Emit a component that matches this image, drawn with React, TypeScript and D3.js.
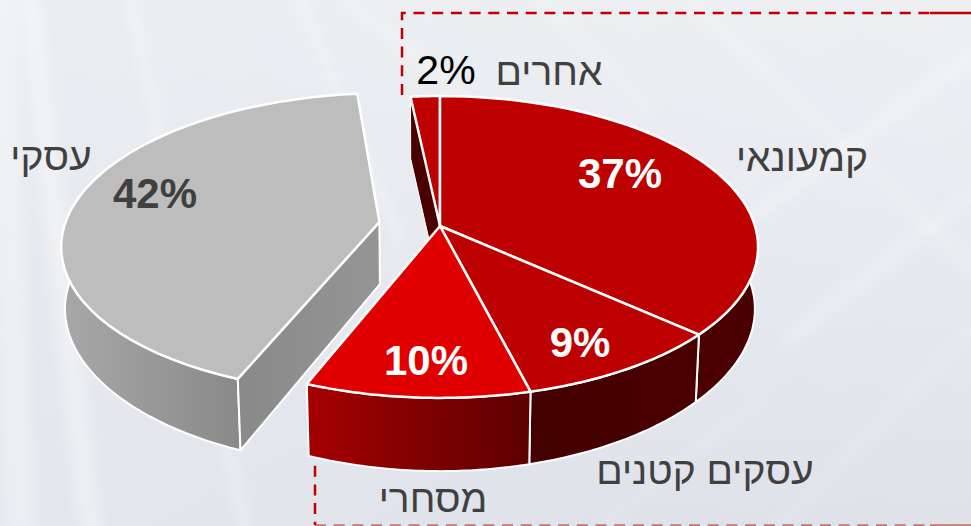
import React from "react";
import { pie, line, range, scaleLinear, curveLinearClosed } from "d3";

const categories = ["קמעונאי", "עסקים קטנים", "מסחרי", "עסקי", "אחרים"];
// the labels show them rounded
const shares = [36.6, 9.4, 10, 42.3, 1.7];

// how far a slice is pulled out, in pie radii
const explode = [0, 0, 0, 0.195, 0];

const topColors = ["#bd0000", "#bd0000", "#e00000", "#bdbdbd", "#bd0000"];
const pctColors = ["#ffffff", "#ffffff", "#ffffff", "#404040", "#000000"];
const pctBold = [true, true, true, true, false];
const pctAnchors = [[620, 188], [580, 357], [426, 375], [155, 208], [446, 84]];
const labelAnchors = [[802, 171], [705, 484], [433, 512], [51, 170], [549, 85]];

const W = 971;
const H = 526;
const top = { cx: 440, cy: 226, f: 315, g: 148, kx: 0.139, ky: 0.139 };
const bottom = { cx: 440, cy: 288, f: 312, g: 152, kx: 0.135, ky: 0.17 };

type Plane = typeof top;

const project = (p: Plane, X: number, Y: number): [number, number] => [
  p.cx + (p.f * X) / (1 + p.kx * Y),
  p.cy - (p.g * Y) / (1 + p.ky * Y),
];

const arcs = pie<number>().sort(null).value((d) => d)(shares);
const path = line().curve(curveLinearClosed);

const offset = (i: number): [number, number] => {
  const mid = (arcs[i].startAngle + arcs[i].endAngle) / 2;
  return [explode[i] * Math.sin(mid), explode[i] * Math.cos(mid)];
};

const rim = (p: Plane, i: number, a0: number, a1: number) => {
  const n = 48;
  const angle = scaleLinear().domain([0, n]).range([a0, a1]);
  const [ox, oy] = offset(i);
  return range(n + 1).map((t) =>
    project(p, ox + Math.sin(angle(t)), oy + Math.cos(angle(t)))
  );
};

const apex = (p: Plane, i: number) => {
  const [ox, oy] = offset(i);
  return project(p, ox, oy);
};

const topFace = (i: number) =>
  path([apex(top, i), ...rim(top, i, arcs[i].startAngle, arcs[i].endAngle)]) as string;

// outer wall, only the part turned to the viewer
const outerWall = (i: number) => {
  const lo = Math.max(arcs[i].startAngle, Math.PI / 3);
  const hi = Math.min(arcs[i].endAngle, (Math.PI * 5) / 3);
  return path([...rim(top, i, lo, hi), ...rim(bottom, i, lo, hi).reverse()]) as string;
};

// cut wall along one radius
const cutWall = (i: number, a: number) => {
  const [ox, oy] = offset(i);
  const X = ox + Math.sin(a);
  const Y = oy + Math.cos(a);
  return path([apex(top, i), project(top, X, Y), project(bottom, X, Y), apex(bottom, i)]) as string;
};

const font = "'Liberation Sans', Arial, sans-serif";
const white = { stroke: "#fff", strokeWidth: 2.5, strokeLinejoin: "round" as const };

// background light bands
const bands = [
  { d: "M757,213 L971,57", w: 16, o: 0.25 },
  { d: "M787,340 L971,195", w: 14, o: 0.22 },
  { d: "M690,0 L971,265", w: 12, o: 0.2 },
  { d: "M620,300 L760,170", w: 10, o: 0.15 },
  { d: "M30,0 L90,526", w: 22, o: 0.35 },
  { d: "M130,0 L245,526", w: 12, o: 0.25 },
  { d: "M300,0 L400,240", w: 8, o: 0.35 },
  { d: "M345,0 L460,90", w: 10, o: 0.25 },
  { d: "M0,0 L20,526", w: 30, o: 0.3 },
  { d: "M540,0 L650,110", w: 10, o: 0.2 },
  { d: "M780,526 L971,330", w: 14, o: 0.1 },
  { d: "M600,526 L760,400", w: 10, o: 0.1 },
];

export default function App() {
  return (
    <svg width={W} height={H} style={{ position: "absolute", left: 0, top: 0 }}>
      <defs>
        <linearGradient id="bg" x1="0" y1="0" x2="1" y2="1">
          <stop offset="0" stopColor="#e8ebef" />
          <stop offset="0.55" stopColor="#e3e6ec" />
          <stop offset="1" stopColor="#dce0e7" />
        </linearGradient>
        <linearGradient id="bgTop" x1="1" y1="0" x2="0.4" y2="0.8">
          <stop offset="0" stopColor="#fff" stopOpacity="0.35" />
          <stop offset="1" stopColor="#fff" stopOpacity="0" />
        </linearGradient>
        <filter id="soft" x="-10%" y="-10%" width="120%" height="120%">
          <feGaussianBlur stdDeviation="6" />
        </filter>
        <linearGradient id="grayWall" gradientUnits="userSpaceOnUse" x1="62" y1="0" x2="246" y2="0">
          <stop offset="0" stopColor="#a8a8a8" />
          <stop offset="1" stopColor="#888888" />
        </linearGradient>
        <linearGradient id="grayCut" gradientUnits="userSpaceOnUse" x1="246" y1="0" x2="381" y2="0">
          <stop offset="0" stopColor="#8a8a8a" />
          <stop offset="1" stopColor="#959595" />
        </linearGradient>
        <linearGradient id="redWall" gradientUnits="userSpaceOnUse" x1="312" y1="0" x2="532" y2="0">
          <stop offset="0" stopColor="#a50000" />
          <stop offset="1" stopColor="#5c0000" />
        </linearGradient>
        <linearGradient id="midWall" gradientUnits="userSpaceOnUse" x1="532" y1="0" x2="700" y2="0">
          <stop offset="0" stopColor="#440000" />
          <stop offset="1" stopColor="#4a0000" />
        </linearGradient>
      </defs>

      <rect width={W} height={H} fill="url(#bg)" />
      <rect width={W} height={H} fill="url(#bgTop)" />
      <g filter="url(#soft)" fill="none" stroke="#fff" strokeLinecap="round">
        {bands.map((b, i) => (
          <path key={i} d={b.d} strokeWidth={b.w} strokeOpacity={b.o} />
        ))}
      </g>

      {/* dashed frame */}
      <g fill="none" stroke="#c00000" strokeWidth={2.5}>
        <path d="M402,95 V13 H930" strokeDasharray="11 7.7" />
        <path d="M930,13 H971" />
        <path d="M315,447 V525" strokeDasharray="11 7.7" />
        <path d="M315,525.5 H930" strokeDasharray="11 7.7" strokeOpacity={0.5} />
        <path d="M930,525.5 H971" strokeOpacity={0.5} />
      </g>

      {/* cut wall of the small slice, behind everything */}
      <path d={cutWall(4, arcs[4].startAngle)} fill="#4a0000" {...white} strokeWidth={1} />

      {/* pulled-out slice */}
      <path d={outerWall(3)} fill="url(#grayWall)" {...white} strokeWidth={2} />
      <path d={cutWall(3, arcs[3].startAngle)} fill="url(#grayCut)" {...white} strokeWidth={2} />
      <path d={topFace(3)} fill={topColors[3]} {...white} />

      {/* main pie walls, then tops */}
      <path d={outerWall(0)} fill="#4a0000" {...white} strokeWidth={2} />
      <path d={outerWall(1)} fill="url(#midWall)" {...white} strokeWidth={2} />
      <path d={outerWall(2)} fill="url(#redWall)" {...white} strokeWidth={2} />
      {[4, 0, 1, 2].map((i) => (
        <path key={i} d={topFace(i)} fill={topColors[i]} {...white} />
      ))}

      <g fontFamily={font}>
        {categories.map((c, i) => (
          <text
            key={c}
            x={labelAnchors[i][0]}
            y={labelAnchors[i][1]}
            textAnchor="middle"
            fontSize={39}
            fill="#404040"
          >
            {c}
          </text>
        ))}
        {shares.map((s, i) => (
          <text
            key={i}
            x={pctAnchors[i][0]}
            y={pctAnchors[i][1]}
            textAnchor="middle"
            fontSize={pctBold[i] ? 42 : 41}
            fontWeight={pctBold[i] ? "bold" : "normal"}
            fill={pctColors[i]}
          >
            {Math.round(s)}%
          </text>
        ))}
      </g>
    </svg>
  );
}
